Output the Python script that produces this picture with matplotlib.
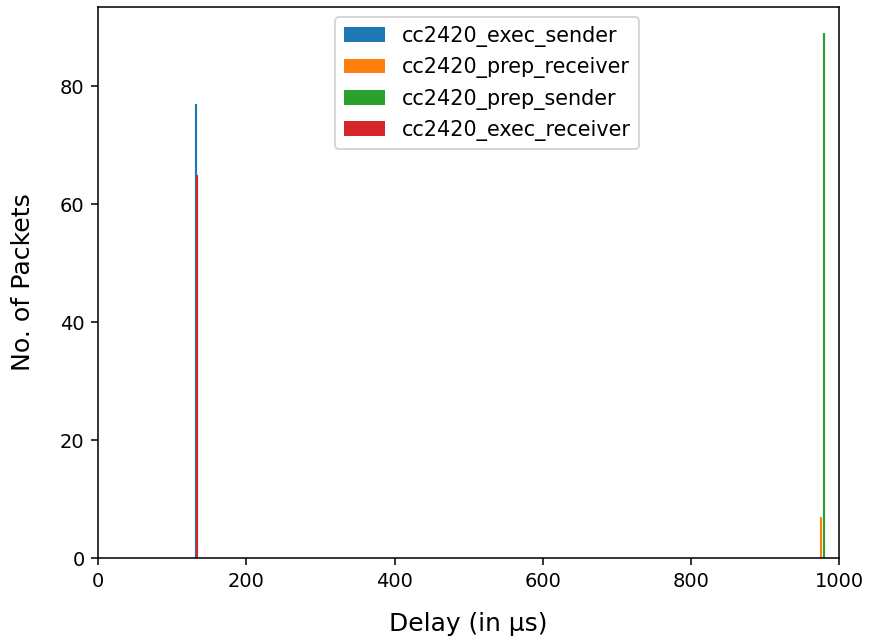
"""Delay histogram for the cc2420 send/receive phases."""

import matplotlib

matplotlib.use("Agg")
import matplotlib.pyplot as plt

# Histogram bins (bin centre in µs) and packet counts per series
series_names = [
    "cc2420_exec_sender",
    "cc2420_prep_receiver",
    "cc2420_prep_sender",
    "cc2420_exec_receiver",
]
bin_centres = [131.0, 975.0, 979.0, 133.0]
packet_counts = [77, 7, 89, 65]
bin_width = 2.0
colors = ["#1f77b4", "#ff7f0e", "#2ca02c", "#d62728"]


def main() -> None:
    dpi = 140
    fig = plt.figure(figsize=(869 / dpi, 640 / dpi), dpi=dpi)
    ax = fig.add_axes([0.113, 0.128, 0.8525, 0.861])

    for name, centre, count, color in zip(
        series_names, bin_centres, packet_counts, colors, strict=True
    ):
        ax.bar(
            [centre],
            [count],
            width=bin_width,
            color=color,
            edgecolor=color,
            linewidth=0.6,
            label=name,
        )

    ax.set_xlim(0, 1000)
    ax.set_ylim(0, max(packet_counts) * 1.05)
    ax.set_yticks([0, 20, 40, 60, 80])
    ax.tick_params(labelsize=10)
    ax.set_xlabel("Delay (in µs)", fontsize=12.8, labelpad=11)
    ax.set_ylabel("No. of Packets", fontsize=13, labelpad=13)
    leg = ax.legend(loc="upper center", bbox_to_anchor=(0.525, 1.0), fontsize=10.7)
    for handle in leg.legend_handles:
        handle.set_linewidth(0)

    fig.savefig("out.png", dpi=dpi)
    plt.close(fig)


if __name__ == "__main__":
    main()
